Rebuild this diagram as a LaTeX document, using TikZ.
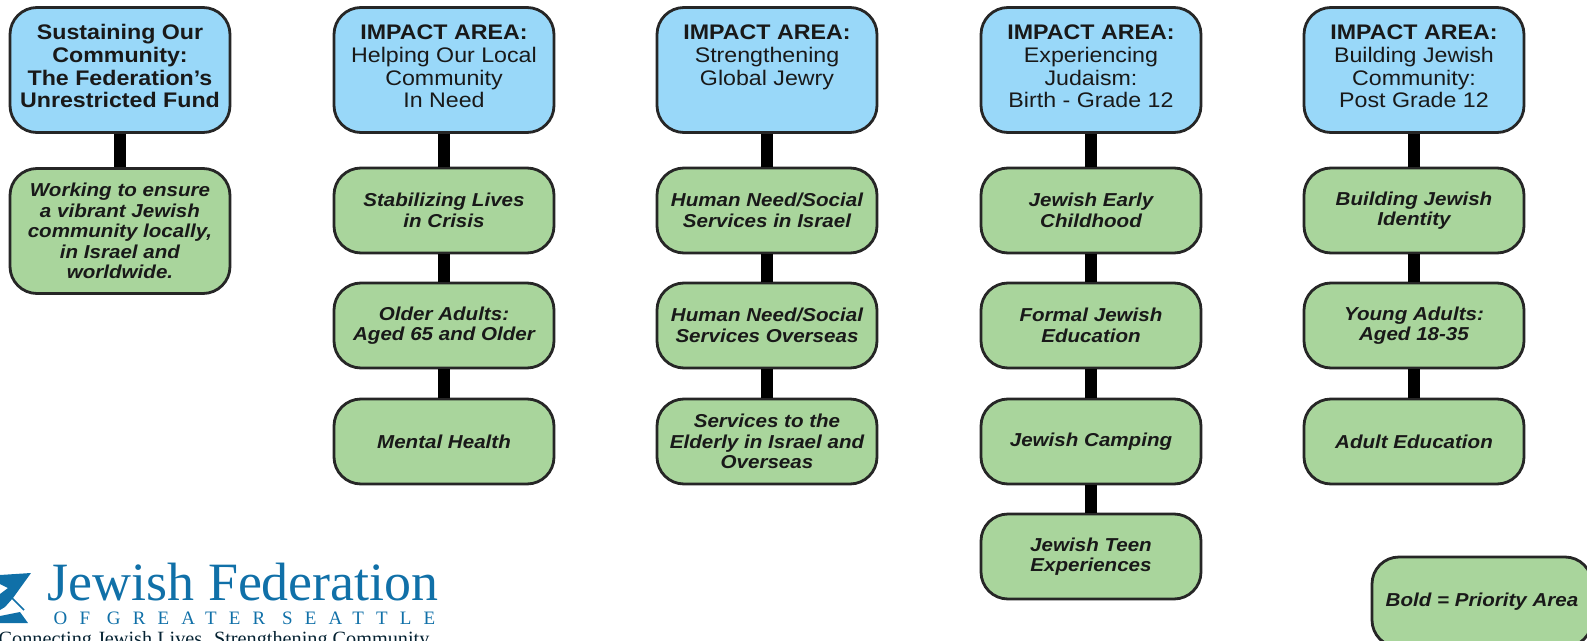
\documentclass[tikz,border=0pt]{standalone}
\usepackage{fontspec}
\setmainfont[FakeStretch=1.1]{Liberation Sans}
\newfontfamily\logofont{Liberation Serif}
\usetikzlibrary{positioning}
\definecolor{areablue}{HTML}{99D8F9}
\definecolor{focusgreen}{HTML}{A9D59C}
\definecolor{logoblue}{HTML}{1070A8}
\tikzset{
  box/.style={draw=black!85, line width=0.028cm, rounded corners=0.27cm, minimum width=2.2cm, align=center, inner sep=0pt, text=black!90},
  area/.style={box, fill=areablue, minimum height=1.25cm, text height=0.9cm, text depth=0.142cm, font=\fontsize{6.0}{6.45}\selectfont},
  focus/.style={box, fill=focusgreen, minimum height=0.85cm, font=\fontsize{5.32}{5.87}\selectfont\bfseries\itshape},
  link/.style={line width=0.12cm, black}
}
\begin{document}
\begin{tikzpicture}
  \useasboundingbox (0,0) rectangle (15.87,6.40);
  \clip (0,0) rectangle (15.87,6.40);

  %top row
  \node[area] (a1) at (1.20,5.70) {\textbf{Sustaining Our}\\\textbf{Community:}\\\textbf{The Federation's}\\\textbf{Unrestricted Fund}};
  \foreach \i/\x/\name in {2/4.44/Helping Our Local\\Community\\In Need, 3/7.67/Strengthening\\Global Jewry\\~, 4/10.91/Experiencing\\Judaism:\\Birth - Grade 12, 5/14.14/Building Jewish\\Community:\\Post Grade 12} {
    \node[area] (a\i) at (\x,5.70) {\textbf{IMPACT AREA:}\\\name};
  }

  %column 1
  \node[focus, minimum height=1.25cm] (f1a) at (1.20,4.09) {Working to ensure\\a vibrant Jewish\\community locally,\\in Israel and\\worldwide.};
  \draw[link] (a1) -- (f1a);

  %other columns
  \foreach \i/\x/\first/\second/\third in {
    2/4.44/{Stabilizing Lives\\in Crisis}/{Older Adults:\\Aged 65 and Older}/{Mental Health},
    3/7.67/{Human Need/Social\\Services in Israel}/{Human Need/Social\\Services Overseas}/{Services to the\\Elderly in Israel and\\Overseas},
    4/10.91/{Jewish Early\\Childhood}/{Formal Jewish\\Education}/{Jewish Camping},
    5/14.14/{Building Jewish\\Identity}/{Young Adults:\\Aged 18-35}/{Adult Education}} {
    \node[focus] (f\i a) at (\x,4.295) {\first};
    \node[focus] (f\i b) at (\x,3.145) {\second};
    \node[focus] (f\i c) at (\x,1.985) {\third};
    \draw[link] (a\i) -- (f\i a);
    \draw[link] (f\i a) -- (f\i b);
    \draw[link] (f\i b) -- (f\i c);
  }

  \node[focus] (f4d) at (10.91,0.835) {Jewish Teen\\Experiences};
  \draw[link] (f4c) -- (f4d);

  %legend
  \node[focus, minimum height=0.9cm] (key) at (14.82,0.38) {Bold = Priority Area};

  %logo
  \node[logoblue, anchor=base west, inner sep=0pt, font=\logofont\fontsize{15.35}{15.35}\selectfont] (fedname) at (0.47,0.40) {Jewish Federation};
  \node[logoblue, anchor=base west, inner sep=0pt, font=\logofont\fontsize{5.4}{5.4}\selectfont\addfontfeatures{LetterSpace=64}] (fedplace) at (0.53,0.16) {OF GREATER SEATTLE};
  \node[black!70!logoblue, anchor=base west, inner sep=0pt, font=\logofont\fontsize{5.76}{5.76}\selectfont] (fedline) at (-0.02,-0.05) {Connecting Jewish Lives. Strengthening Community.};
  \fill[logoblue] (0,0.65) -- (0.31,0.67) -- (0.13,0.42) -- (0.05,0.33) -- (0,0.30) -- (0,0.46) -- (0.08,0.52) -- (0,0.56) -- cycle;
  \fill[logoblue] (0,0.24) -- (0.20,0.28) -- (0.28,0.17) -- (0,0.17) -- cycle;
  \draw[logoblue, line width=0.015cm] (0.10,0.44) -- (0.24,0.30);
\end{tikzpicture}
\end{document}
